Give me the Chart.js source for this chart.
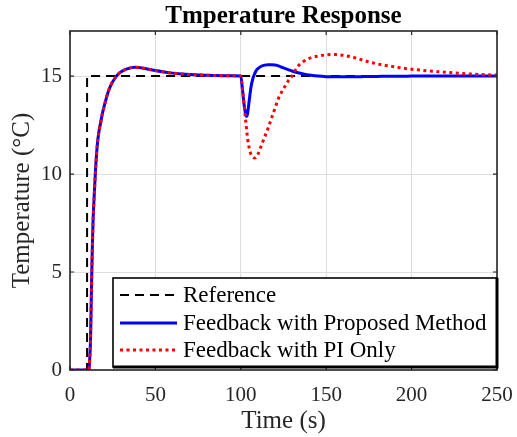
<!DOCTYPE html>
<html>
<head>
<meta charset="utf-8">
<script src="https://cdn.jsdelivr.net/npm/chart.js@4"></script>
<style>
html,body{margin:0;padding:0;background:#fff;}
#c{display:block;}
</style>
</head>
<body>
<canvas id="c" width="517" height="437"></canvas>
<script>
// ---- data ----
const times = [0, 5, 10, 11, 11.5, 12, 12.5, 13, 13.5, 14, 15, 16, 17, 18, 19, 20, 22, 24, 26, 28, 30, 33, 36, 38, 40, 43, 46, 50, 55, 60, 65, 70, 75, 80, 85, 90, 95, 100, 101, 102, 103, 103.5, 104, 105, 106, 107, 108, 109, 110, 112, 114, 116, 118, 120, 122, 124, 126, 128, 130, 133, 136, 140, 145, 150, 155, 160, 165, 170, 175, 180, 185, 190, 195, 200, 210, 220, 230, 240, 250];
const proposed = [0, 0, 0, 0, 0.5, 1.5, 3.8, 6.0, 7.6, 8.6, 10.3, 11.5, 12.2, 12.65, 13.1, 13.45, 14.1, 14.55, 14.85, 15.08, 15.22, 15.35, 15.43, 15.45, 15.44, 15.4, 15.35, 15.28, 15.21, 15.15, 15.11, 15.08, 15.06, 15.04, 15.03, 15.02, 15.01, 15.0, 14.3, 13.5, 13.0, 12.94, 13.1, 13.8, 14.45, 14.85, 15.1, 15.28, 15.38, 15.5, 15.56, 15.58, 15.58, 15.56, 15.52, 15.45, 15.38, 15.32, 15.26, 15.18, 15.12, 15.05, 15.0, 14.97, 14.96, 14.96, 14.97, 14.97, 14.98, 14.98, 14.99, 14.99, 14.99, 15.0, 15.0, 15.0, 15.0, 15.0, 15.0];
const piOnly = [0, 0, 0, 0, 0.5, 1.5, 3.8, 6.0, 7.6, 8.6, 10.3, 11.5, 12.2, 12.65, 13.1, 13.45, 14.1, 14.55, 14.85, 15.08, 15.22, 15.35, 15.43, 15.45, 15.44, 15.4, 15.35, 15.28, 15.21, 15.15, 15.11, 15.08, 15.06, 15.04, 15.03, 15.02, 15.01, 15.0, 14.3, 13.5, 12.6, 12.2, 11.8, 11.3, 11.0, 10.87, 10.82, 10.85, 11.0, 11.45, 11.9, 12.35, 12.85, 13.35, 13.85, 14.2, 14.5, 14.78, 15.0, 15.45, 15.7, 15.9, 16.02, 16.08, 16.1, 16.06, 15.97, 15.85, 15.72, 15.62, 15.54, 15.47, 15.4, 15.35, 15.26, 15.19, 15.13, 15.08, 15.05];
const refTimes = [0, 10, 10, 250];
const refValues = [0, 0, 15, 15];
const xTicks = [0, 50, 100, 150, 200, 250];
const yTicks = [0, 5, 10, 15];
const seriesNames = ['Reference', 'Feedback with Proposed Method', 'Feedback with PI Only'];
const titleText = 'Tmperature Response';
const xTitle = 'Time (s)';
const yTitle = 'Temperature (\u00B0C)';

const SERIF = '"Liberation Serif", "Times New Roman", serif';
const INK = '#262626';

const toXY = (xs, ys) => xs.map((x, i) => ({x: x, y: ys[i]}));

const datasets = [
  {label: seriesNames[0], data: toXY(refTimes, refValues), borderColor: '#000', borderWidth: 2, borderDash: [9, 6], pointRadius: 0, tension: 0, order: 3},
  {label: seriesNames[1], data: toXY(times, proposed), borderColor: '#0000ff', borderWidth: 3, pointRadius: 0, cubicInterpolationMode: 'monotone', order: 2},
  {label: seriesNames[2], data: toXY(times, piOnly), borderColor: '#ff0000', borderWidth: 3, borderDash: [3, 3.5], pointRadius: 0, cubicInterpolationMode: 'monotone', order: 1}
];

const decor = {
  id: 'decor',
  beforeDraw(chart) {
    const c = chart.ctx;
    c.save();
    c.fillStyle = '#fff';
    c.fillRect(0, 0, chart.width, chart.height);
    c.restore();
  },
  afterDatasetsDraw(chart) {
    const c = chart.ctx, a = chart.chartArea;
    const xs = chart.scales.x, ys = chart.scales.y;
    c.save();
    // frame
    c.strokeStyle = INK;
    c.lineWidth = 1.6;
    c.strokeRect(a.left, a.top, a.right - a.left, a.bottom - a.top);
    // inward ticks
    c.lineWidth = 1.2;
    c.beginPath();
    xTicks.forEach(v => {
      const px = xs.getPixelForValue(v);
      c.moveTo(px, a.bottom); c.lineTo(px, a.bottom - 4);
      c.moveTo(px, a.top); c.lineTo(px, a.top + 4);
    });
    yTicks.forEach(v => {
      const py = ys.getPixelForValue(v);
      c.moveTo(a.left, py); c.lineTo(a.left + 4, py);
      c.moveTo(a.right, py); c.lineTo(a.right - 4, py);
    });
    c.stroke();

    // legend box
    const lx = 113, ly = 278, lw = a.right - 113, lh = 89;
    c.fillStyle = '#fff';
    c.fillRect(lx, ly, lw, lh);
    c.strokeStyle = '#000';
    c.lineWidth = 1.6;
    c.strokeRect(lx, ly, lw, lh);
    c.lineWidth = 3;
    c.beginPath();
    c.moveTo(lx, ly + lh); c.lineTo(lx + lw, ly + lh);
    c.lineTo(lx + lw, ly);
    c.stroke();
    const rows = [295, 323, 350];
    datasets.forEach((d, i) => {
      c.strokeStyle = d.borderColor;
      c.lineWidth = d.borderWidth;
      c.setLineDash(d.borderDash || []);
      c.beginPath();
      c.moveTo(120, rows[i]); c.lineTo(177, rows[i]);
      c.stroke();
      c.setLineDash([]);
      c.fillStyle = '#000';
      c.font = '23px ' + SERIF;
      c.textAlign = 'left';
      c.textBaseline = 'middle';
      c.fillText(d.label, 183, rows[i] + 1);
    });

    // titles
    c.fillStyle = '#000';
    c.font = 'bold 25px ' + SERIF;
    c.textAlign = 'center';
    c.textBaseline = 'middle';
    c.fillText(titleText, (a.left + a.right) / 2, 17);
    c.fillStyle = INK;
    c.font = '25px ' + SERIF;
    c.fillText(xTitle, (a.left + a.right) / 2, 421);
    c.translate(22, (a.top + a.bottom) / 2);
    c.rotate(-Math.PI / 2);
    c.fillText(yTitle, 0, 0);
    c.restore();
  }
};

new Chart(document.getElementById('c'), {
  type: 'line',
  data: {datasets: datasets},
  options: {
    responsive: false,
    animation: false,
    layout: {padding: {top: 31, right: 20, left: 0, bottom: 0}},
    plugins: {legend: {display: false}, title: {display: false}, tooltip: {enabled: false}},
    scales: {
      x: {
        type: 'linear', min: 0, max: 250,
        afterBuildTicks: s => { s.ticks = xTicks.map(v => ({value: v})); },
        afterFit: s => { s.height = 67; s.paddingLeft = 0; s.paddingRight = 0; },
        grid: {color: '#dedede', lineWidth: 1, drawTicks: false},
        border: {display: false},
        ticks: {padding: 13, color: INK, font: {family: SERIF, size: 21}, maxRotation: 0, autoSkip: false}
      },
      y: {
        type: 'linear', min: 0, max: 17.3,
        afterBuildTicks: s => { s.ticks = yTicks.map(v => ({value: v})); },
        afterFit: s => { s.width = 70; s.paddingTop = 0; s.paddingBottom = 0; },
        grid: {color: '#dedede', lineWidth: 1, drawTicks: false},
        border: {display: false},
        ticks: {padding: 8, color: INK, font: {family: SERIF, size: 21}}
      }
    }
  },
  plugins: [decor]
});
</script>
</body>
</html>
